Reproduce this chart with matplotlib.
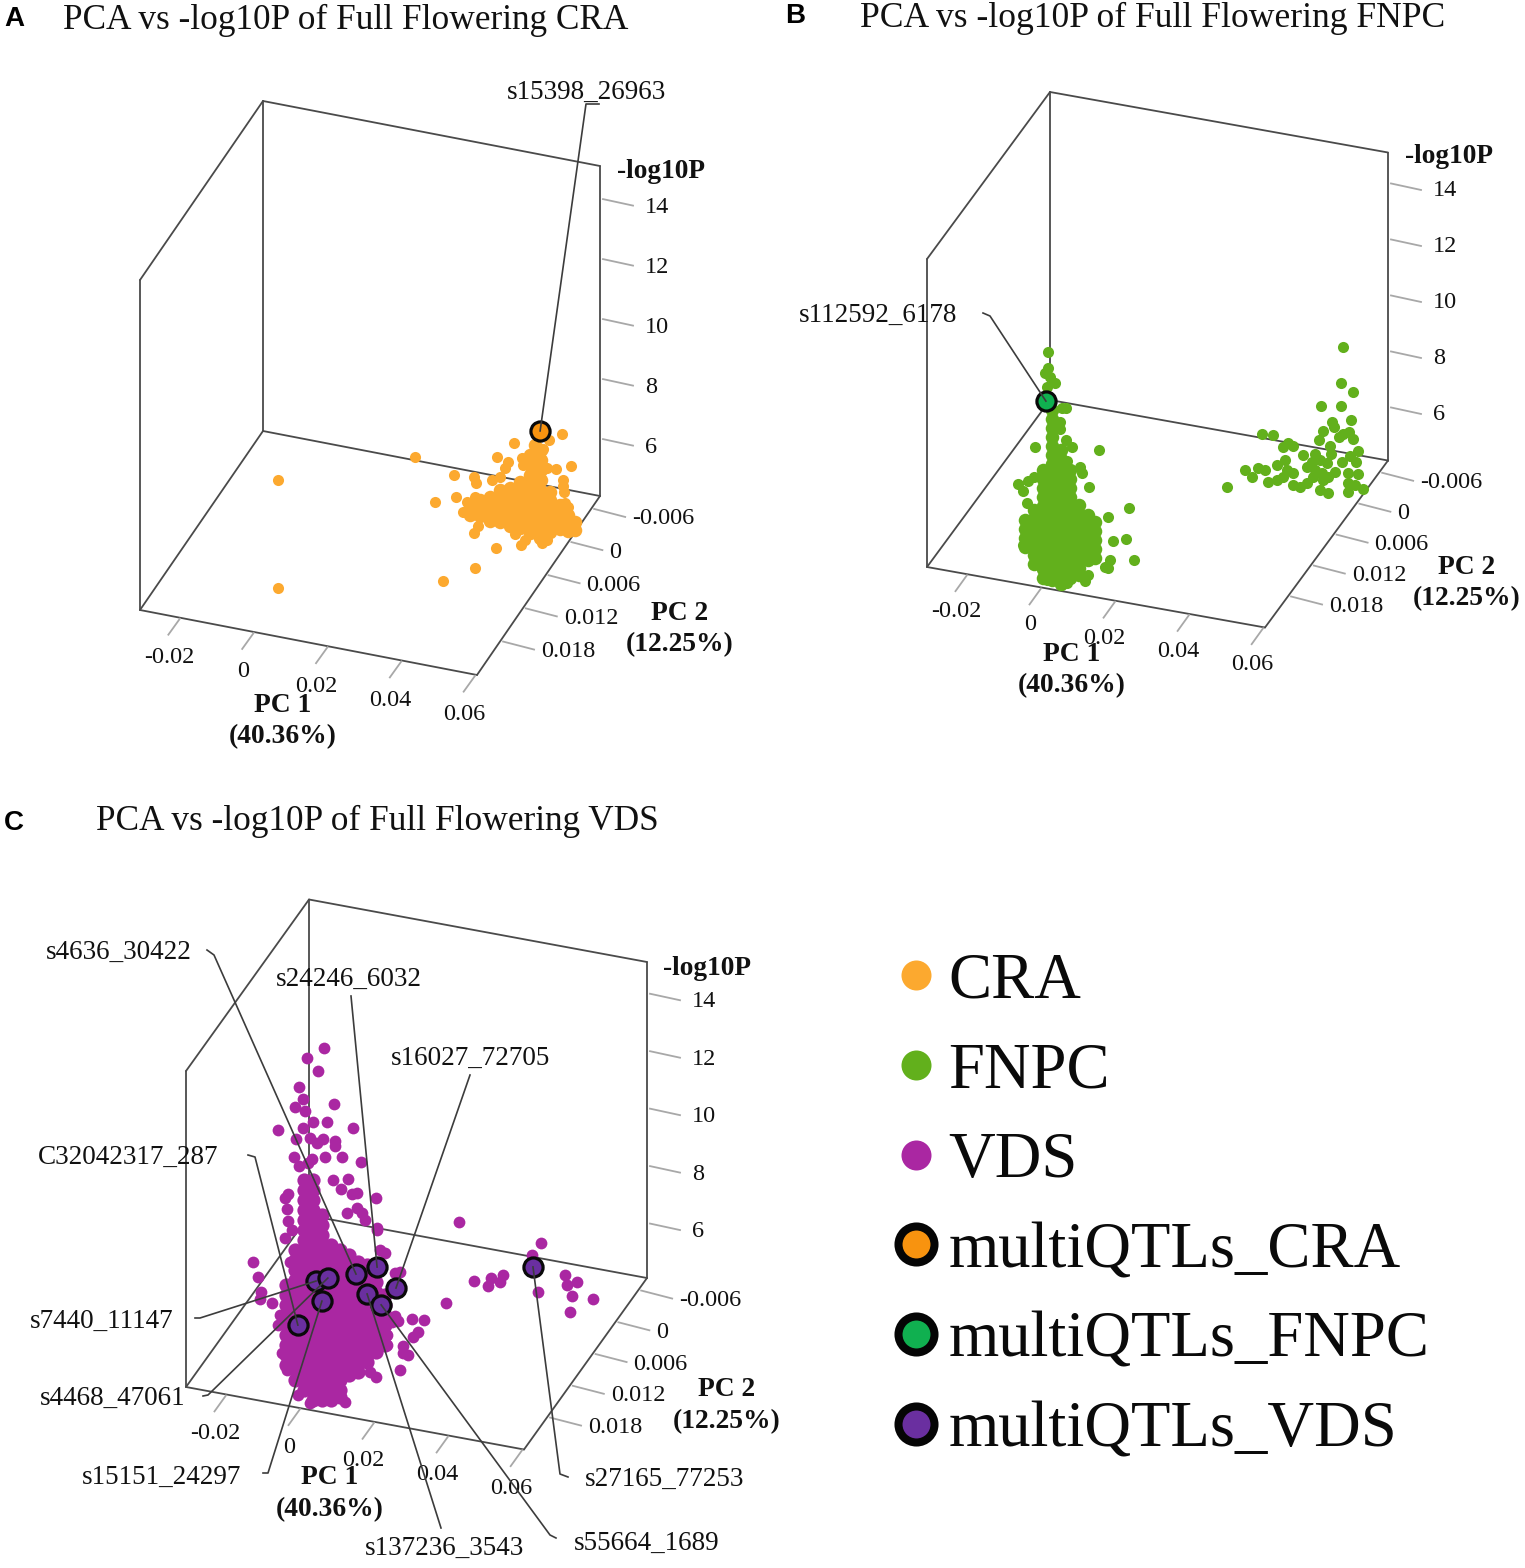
import numpy as np
import matplotlib
matplotlib.use("Agg")
import matplotlib.pyplot as plt

plt.rcParams['font.family'] = ['Liberation Serif', 'DejaVu Serif']

pc1_ticks = [-0.02, 0, 0.02, 0.04, 0.06]
pc2_ticks = [-0.006, 0, 0.006, 0.012, 0.018]
logp_ticks = [6, 8, 10, 12, 14]
PC1_RANGE = (-0.0308, 0.0605)
PC2_RANGE = (-0.0078, 0.0246)
LOGP_RANGE = (4.07, 15.07)

CRA_COLOR = '#FCA92F'
FNPC_COLOR = '#62B01C'
VDS_COLOR = '#AA27A2'
CRA_QTL = '#F8930F'
FNPC_QTL = '#10B050'
VDS_QTL = '#6A2FA0'

# CRA: dense body, one pc1 per column, all at pc2 = 0
cra_col_pc1 = [0.0333, 0.036, 0.0387, 0.0414, 0.0441, 0.0468, 0.0496, 0.0523, 0.055, 0.0577, 0.0599, 0.0617,
               0.0509, 0.0496, 0.0525]
cra_col_logp = [
    [4.49, 4.23],
    [4.79, 4.53, 4.26],
    [4.96, 4.69, 4.42, 4.16],
    [5.25, 4.99, 4.72, 4.45, 4.19],
    [5.39, 5.12, 4.85, 4.59, 4.32, 4.12],
    [5.65, 5.38, 5.12, 4.85, 4.58, 4.32, 4.12],
    [5.61, 5.35, 5.08, 4.81, 4.55, 4.28, 4.01],
    [5.51, 5.25, 4.98, 4.71, 4.45, 4.18, 3.91],
    [5.51, 5.24, 4.98, 4.71, 4.44, 4.18],
    [5.14, 4.87, 4.61, 4.34],
    [4.86, 4.59, 4.33],
    [4.68, 4.41],
    [6.98, 6.75, 6.51, 6.28, 6.05, 5.81],
    [6.61, 6.28, 5.95],
    [6.85, 6.52, 6.19, 5.85],
]
# CRA: scattered loci
cra_pc1 = [0.0184, 0.0238, 0.029, 0.0295, 0.0344, 0.0349, 0.0452, 0.0406, 0.0436, 0.0428, 0.0415, 0.0393,
           0.0473, 0.0476, 0.0582, 0.0547, 0.0531, 0.0607, 0.0567, 0.0541, 0.0585, 0.0585, 0.0588, 0.059,
           0.0598, 0.0354, 0.0344, 0.0455, 0.0471, 0.0482, 0.0528, 0.0541, 0.0314, 0.0325, 0.0346,
           -0.0012, -0.0012, 0.0371, 0.0426, 0.0443]
cra_pc2 = [0] * 35 + [0.017, 0.017, 0.0108, 0.0077, 0.0039]
cra_logp = [5.81, 4.44, 5.46, 4.74, 5.52, 5.34, 6.91, 6.34, 6.24, 6.02, 5.69, 5.54,
            6.46, 6.24, 7.52, 7.24, 6.9, 6.51, 6.32, 6.29, 5.99, 5.79, 5.61, 5.24,
            5.11, 3.9, 3.66, 3.88, 3.56, 3.75, 3.76, 3.89, 4.28, 4.64, 4.86,
            4.1, 7.7, 4.1, 4.1, 4.1]
cra_qtl_pc1 = [0.0523]
cra_qtl_pc2 = [0]
cra_qtl_logp = [7.48]

# FNPC: main cloud, columns at pc2 = 0.024
fnpc_col_pc1 = [-0.0049, -0.0025, -0.0001, 0.0024, 0.0048, 0.0072, 0.0096, 0.0121, 0.014]
fnpc_col_logp = [
    [6.25, 5.93, 5.61, 5.29],
    [6.66, 6.34, 6.02, 5.7, 5.38, 5.05, 4.73],
    [8.15, 7.83, 7.51, 7.19, 6.87, 6.55, 6.23, 5.91, 5.59, 5.27, 4.95, 4.63, 4.31],
    [10.35, 10.03, 9.71, 9.39, 9.07, 8.75, 8.43, 8.11, 7.79, 7.47, 7.15, 6.83, 6.51, 6.19, 5.87, 5.55, 5.23,
     4.91, 4.59, 4.27],
    [8.98, 8.66, 8.34, 8.02, 7.7, 7.38, 7.06, 6.74, 6.42, 6.1, 5.78, 5.46, 5.14, 4.82, 4.5, 4.18],
    [8.32, 8.0, 7.68, 7.36, 7.04, 6.72, 6.4, 6.08, 5.76, 5.44, 5.12, 4.8, 4.48],
    [7.13, 6.81, 6.49, 6.17, 5.85, 5.53, 5.21, 4.89, 4.63],
    [6.83, 6.51, 6.19, 5.87, 5.55, 5.23],
    [6.63, 6.31, 5.99, 5.67, 5.35],
]
fnpc_pc1 = [0.0013, 0.0013, 0.0005, 0.0018, 0.0032, 0.001, 0.0061, 0.005, 0.0045, 0.0045, -0.0022, 0.0061,
            0.0078, 0.015, 0.0064, 0.0099, 0.0105, 0.0123, -0.0068, -0.0041, -0.0025, -0.0055, -0.0044,
            0.0232, 0.0175, 0.0188, 0.0223, 0.0245, 0.018, 0.0175, 0.0167, 0.0121, 0.0113, -0.0055, -0.002,
            0.001, 0.0064]
fnpc_logp = [12.4, 11.82, 11.62, 11.52, 11.33, 11.14, 10.51, 10.48, 9.97, 9.72, 8.92, 9.36,
             9.15, 9.21, 8.62, 8.49, 8.29, 7.83, 7.5, 7.65, 7.84, 7.28, 6.87,
             7.34, 6.89, 6.06, 6.2, 5.52, 5.38, 5.07, 5.08, 4.69, 4.45, 5.35, 4.86,
             4.25, 4.26]
# FNPC: second cluster at pc2 = 0
fnpc_far_pc1 = [0.0563, 0.0558, 0.059, 0.0558, 0.0504, 0.0585, 0.0534, 0.0539, 0.051, 0.058, 0.0499, 0.0563,
                0.0553, 0.059, 0.0345, 0.0374, 0.0415, 0.0401, 0.0428, 0.0528, 0.0531, 0.0455, 0.0488, 0.0604,
                0.0582, 0.0599, 0.0561, 0.0407, 0.0385, 0.0299, 0.0334, 0.0318, 0.025, 0.0353, 0.0361, 0.0385,
                0.0412, 0.0428, 0.0401, 0.0447, 0.0466, 0.0466, 0.048, 0.0501, 0.052, 0.0483, 0.0507, 0.0523,
                0.0542, 0.0501, 0.0523, 0.0577, 0.0604, 0.0577, 0.0596, 0.0618, 0.0577, 0.0488, 0.0428, 0.051]
fnpc_far_logp = [9.46, 8.16, 7.92, 7.34, 7.22, 6.91, 6.71, 6.55, 6.33, 6.47, 5.99, 6.36,
                 6.22, 6.24, 5.84, 5.87, 5.68, 5.51, 5.61, 5.84, 5.57, 5.35, 5.46, 5.84,
                 5.62, 5.44, 5.35, 5.06, 4.83, 4.45, 4.6, 4.24, 3.72, 4.57, 4.16, 4.3,
                 4.71, 4.64, 4.44, 4.19, 4.38, 4.95, 5.16, 5.28, 5.22, 4.63, 4.83, 4.72,
                 4.95, 4.21, 4.15, 4.99, 5.02, 4.63, 4.61, 4.52, 4.31, 4.89, 4.22, 4.58]
fnpc_qtl_pc1 = [0.0007]
fnpc_qtl_pc2 = [0.024]
fnpc_qtl_logp = [10.63]

# VDS: main cloud, columns at pc2 = 0.024
vds_col_pc1 = [-0.0044, -0.002, 0.0005, 0.0029, 0.0053, 0.0078, 0.0102, 0.0126, 0.015, 0.0175, 0.0199, 0.0223]
vds_col_logp = [
    [8.14, 7.79, 7.44, 7.1, 6.75, 6.4, 6.05, 5.71, 5.36],
    [9.41, 9.06, 8.71, 8.37, 8.02, 7.67, 7.32, 6.98, 6.63, 6.28, 5.93, 5.59, 5.24, 4.89],
    [11.91, 11.56, 11.21, 10.87, 10.52, 10.17, 9.82, 9.48, 9.13, 8.78, 8.43, 8.09, 7.74, 7.39, 7.04, 6.7, 6.35,
     6.0, 5.65, 5.31, 4.96, 4.61],
    [11.97, 11.62, 11.27, 10.93, 10.58, 10.23, 9.88, 9.54, 9.19, 8.84, 8.49, 8.15, 7.8, 7.45, 7.1, 6.76, 6.41,
     6.06, 5.71, 5.37, 5.02, 4.67, 4.32],
    [10.81, 10.46, 10.11, 9.77, 9.42, 9.07, 8.72, 8.38, 8.03, 7.68, 7.33, 6.99, 6.64, 6.29, 5.94, 5.6, 5.25,
     4.9, 4.55, 4.37],
    [9.82, 9.47, 9.12, 8.78, 8.43, 8.08, 7.73, 7.39, 7.04, 6.69, 6.34, 6.0, 5.65, 5.3, 4.95, 4.61, 4.43],
    [9.71, 9.36, 9.01, 8.67, 8.32, 7.97, 7.62, 7.28, 6.93, 6.58, 6.23, 5.89, 5.54, 5.19, 4.84, 4.58],
    [9.59, 9.24, 8.89, 8.55, 8.2, 7.85, 7.5, 7.16, 6.81, 6.46, 6.11, 5.77, 5.42],
    [9.4, 9.05, 8.7, 8.36, 8.01, 7.66, 7.31, 6.97, 6.62, 6.27, 5.92, 5.58],
    [9.36, 9.01, 8.66, 8.32, 7.97, 7.62, 7.27, 6.93, 6.58, 6.23, 5.97],
    [9.17, 8.82, 8.47, 8.13, 7.78, 7.43, 7.08, 6.74, 6.39],
    [8.43, 8.08, 7.73, 7.39, 7.04, 6.69],
]
vds_pc1 = [-0.0133, -0.012, -0.0112, -0.0114, -0.0082, -0.0047, -0.0028, -0.0034, -0.006, -0.0066, -0.0055,
           -0.0041, -0.0012, 0.0021, 0.0115, 0.0183, 0.0199, 0.0264, 0.0272, 0.0272, 0.0286, 0.03, 0.0313, 0.0296,
           0.0329, 0.0242, 0.0259, 0.025, 0.0229, 0.0229, 0.0223, 0.021, 0.0264, 0.025, 0.0202, 0.0388]
vds_logp = [8.73, 8.24, 7.73, 7.48, 7.42, 9.77, 10.09, 8.96, 7.06, 6.69, 5.74,
            5.18, 4.39, 4.18, 4.45, 5.65, 5.51, 5.91, 6.76, 6.52, 6.49, 7.15, 7.35, 7.77,
            7.81, 7.53, 7.61, 7.77, 7.05, 6.7, 9.89, 9.96, 9.33, 9.26, 10.64, 8.54]
# VDS: high loci at pc2 = 0.012
vds_high_pc1 = [-0.0064, -0.011, -0.0081, -0.0132, -0.0121, -0.0143, -0.0037, -0.0116, -0.0094, -0.0056, -0.0189,
                -0.0121, 0.0014, -0.014, -0.0102, -0.0067, -0.0035, -0.0035, -0.0083, -0.0145, -0.0097, -0.0062,
                -0.0016, -0.0132, -0.0107, 0.0036, -0.0041, 0.0001, -0.0018, 0.0011, 0.0025, 0.0076, -0.0162,
                -0.017, -0.0165, -0.0162, -0.0002, 0.0025, 0.0038, 0.0046, 0.0079]
vds_high_logp = [14.13, 13.67, 13.29, 12.61, 12.21, 11.89, 12.26, 11.81, 11.48, 11.57, 10.98,
                 11.21, 11.53, 10.77, 10.91, 10.95, 10.96, 10.79, 10.77, 10.14, 10.18, 10.34,
                 10.45, 9.86, 10.02, 10.4, 9.58, 9.72, 9.33, 9.22, 9.29, 9.24, 8.81,
                 8.66, 8.29, 7.87, 8.52, 8.77, 8.64, 8.41, 8.21]
# VDS: second cluster at pc2 = 0
vds_far_pc1 = [0.0177, 0.0218, 0.0256, 0.0288, 0.0296, 0.0263, 0.04, 0.0375, 0.0391, 0.0464, 0.0469, 0.0496,
               0.0482, 0.0539, 0.0476]
vds_far_logp = [6.44, 4.48, 4.4, 4.61, 4.88, 4.69, 6.24, 5.76, 4.51, 5.28, 4.94, 5.11,
                4.59, 4.62, 4.02]
vds_qtl_names = ['s4636_30422', 's24246_6032', 's16027_72705', 'C32042317_287', 's7440_11147',
                 's4468_47061', 's15151_24297', 's137236_3543', 's55664_1689', 's27165_77253']
vds_qtl_pc1 = [0.0145, 0.0202, 0.0253, -0.0012, 0.0037, 0.0069, 0.0053, 0.0175, 0.0213, 0.0377]
vds_qtl_pc2 = [0.024, 0.024, 0.024, 0.024, 0.024, 0.024, 0.024, 0.024, 0.024, 0]
vds_qtl_logp = [8.97, 9.35, 8.74, 6.82, 8.47, 8.65, 7.81, 8.35, 8.06, 5.35]

EDGE = '#4a4a4a'
TICK = '#a8a8a8'
TEXT = '#111111'
LABEL_SIZE = 19.5
TICK_SIZE = 17.5
POINT_SIZE = 64
CORE_SIZE = 95  # dense cloud columns are widened so they close up


class Panel:
    # oblique box: front left floor corner, pc1 edge, pc2 edge (front to back), height
    def __init__(self, ax, corner, pc1_edge, pc2_edge, height, pc1_label_dy=40, logp_label_dy=9):
        self.ax, self.corner = ax, np.array(corner, float)
        self.u, self.v, self.h = np.array(pc1_edge, float), np.array(pc2_edge, float), height
        self.pc1_label_dy, self.logp_label_dy = pc1_label_dy, logp_label_dy

    def project(self, pc1, pc2, logp):
        a = (np.asarray(pc1, float) - PC1_RANGE[0]) / (PC1_RANGE[1] - PC1_RANGE[0])
        b = (PC2_RANGE[1] - np.asarray(pc2, float)) / (PC2_RANGE[1] - PC2_RANGE[0])
        c = (np.asarray(logp, float) - LOGP_RANGE[0]) / (LOGP_RANGE[1] - LOGP_RANGE[0])
        x = self.corner[0] + a * self.u[0] + b * self.v[0]
        y = self.corner[1] + a * self.u[1] + b * self.v[1] - c * self.h
        return x, y

    def box(self):
        p0, p1 = PC1_RANGE
        q0, q1 = PC2_RANGE
        z0, z1 = LOGP_RANGE
        edges = [((p0, q1, z0), (p1, q1, z0)), ((p1, q1, z0), (p1, q0, z0)), ((p1, q0, z0), (p0, q0, z0)),
                 ((p0, q0, z0), (p0, q1, z0)), ((p0, q1, z0), (p0, q1, z1)), ((p0, q0, z0), (p0, q0, z1)),
                 ((p1, q0, z0), (p1, q0, z1)), ((p0, q1, z1), (p0, q0, z1)), ((p0, q0, z1), (p1, q0, z1))]
        for a, b in edges:
            xa, ya = self.project(*a)
            xb, yb = self.project(*b)
            self.ax.plot([xa, xb], [ya, yb], color=EDGE, lw=1.3, zorder=1, solid_capstyle='round')

    def ticks(self):
        p0, p1 = PC1_RANGE
        q0, q1 = PC2_RANGE
        z0 = LOGP_RANGE[0]
        for t in pc1_ticks:
            x, y = self.project(t, q1, z0)
            self.ax.plot([x, x - 11.5], [y + 1, y + 17], color=TICK, lw=1.3, zorder=1)
            self.ax.text(x - 11, y + self.pc1_label_dy, f'{t:g}', ha='center', va='center', fontsize=TICK_SIZE,
                         color=TEXT)
        for t in pc2_ticks:
            x, y = self.project(p1, t, z0)
            self.ax.plot([x + 1, x + 32], [y + 3, y + 11], color=TICK, lw=1.3, zorder=1)
            self.ax.text(x + 39, y + 13, f'{t:g}', ha='left', va='center', fontsize=TICK_SIZE, color=TEXT)
        for t in logp_ticks:
            x, y = self.project(p1, q0, t)
            self.ax.plot([x + 3, x + 33], [y + 1, y + 7.5], color=TICK, lw=1.3, zorder=1)
            self.ax.text(x + 45, y + self.logp_label_dy, f'{t:g}', ha='left', va='center', fontsize=TICK_SIZE,
                         color=TEXT)

    def points(self, pc1, pc2, logp, color, size=POINT_SIZE):
        x, y = self.project(pc1, pc2, logp)
        self.ax.scatter(x, y, s=size, color=color, linewidths=0, zorder=2)

    def qtl(self, pc1, pc2, logp, color):
        x, y = self.project(pc1, pc2, logp)
        self.ax.scatter(x, y, s=190, facecolor=color, edgecolor='#0a0a0a', linewidths=2.3, zorder=3)
        return x, y


def expand(col_pc1, col_logp):
    pc1 = np.repeat(col_pc1, [len(c) for c in col_logp])
    return pc1, np.concatenate(col_logp)


def leader(ax, label, text_xy, elbow, end):
    ax.text(text_xy[0], text_xy[1] + 1, label, ha='center', va='center', fontsize=LABEL_SIZE, color=TEXT)
    xs = [e[0] for e in elbow] + [end[0]]
    ys = [e[1] for e in elbow] + [end[1]]
    ax.plot(xs, ys, color='#3c3c3c', lw=1.2, zorder=4)


def axis_names(ax, pc1_xy, pc2_xy, logp_xy):
    for (x, y), s in [(pc1_xy, 'PC 1'), (pc2_xy, 'PC 2')]:
        ax.text(x, y + 1, s, ha='center', va='center', fontsize=19.8, fontweight='bold', color=TEXT)
        ax.text(x, y + 33, '(40.36%)' if s == 'PC 1' else '(12.25%)', ha='center', va='center',
                fontsize=19.8, fontweight='bold', color=TEXT)
    ax.text(logp_xy[0], logp_xy[1] + 1, '-log10P', ha='center', va='center', fontsize=19.7, fontweight='bold',
            color=TEXT)


fig = plt.figure(figsize=(15.25, 15.68), dpi=100)
ax = fig.add_axes([0, 0, 1, 1])
ax.set_xlim(0, 1525)
ax.set_ylim(1568, 0)
ax.axis('off')

for letter, x, y in [('A', 14, 19), ('B', 795, 16), ('C', 14, 823)]:
    ax.text(x, y, letter, ha='center', va='center', fontsize=20, fontweight='bold', family='Liberation Sans')
for title, x, y, size in [('PCA vs -log10P of Full Flowering CRA', 63, 20, 25.4),
                          ('PCA vs -log10P of Full Flowering FNPC', 860, 18, 25.6),
                          ('PCA vs -log10P of Full Flowering VDS', 96, 821, 25.4)]:
    ax.text(x, y, title, ha='left', va='center', fontsize=size, color=TEXT)

# panel A
pa = Panel(ax, (140, 610), (337, 65), (123, -179), 330)
pa.box()
pa.ticks()
cx, cl = expand(cra_col_pc1, cra_col_logp)
pa.points(cx, np.zeros(len(cx)), cl, CRA_COLOR, CORE_SIZE)
pa.points(cra_pc1, cra_pc2, cra_logp, CRA_COLOR)
qx, qy = pa.qtl(cra_qtl_pc1, cra_qtl_pc2, cra_qtl_logp, CRA_QTL)
leader(ax, 's15398_26963', (586, 91), [(599, 104), (586, 104)], (qx[0], qy[0]))
axis_names(ax, (283, 704), (680, 612), (661, 170))

# panel B
pb = Panel(ax, (927, 567), (338, 60.5), (123, -167), 308, pc1_label_dy=37.5, logp_label_dy=8)
pb.box()
pb.ticks()
cx, cl = expand(fnpc_col_pc1, fnpc_col_logp)
pb.points(cx, np.full(len(cx), 0.024), cl, FNPC_COLOR, CORE_SIZE)
pb.points(fnpc_pc1, np.full(len(fnpc_pc1), 0.024), fnpc_logp, FNPC_COLOR)
pb.points(fnpc_far_pc1, np.zeros(len(fnpc_far_pc1)), fnpc_far_logp, FNPC_COLOR)
qx, qy = pb.qtl(fnpc_qtl_pc1, fnpc_qtl_pc2, fnpc_qtl_logp, FNPC_QTL)
leader(ax, 's112592_6178', (878, 314), [(983, 313), (990, 316)], (qx[0], qy[0]))
axis_names(ax, (1072, 653), (1467, 566), (1449, 155))

# panel C
pc = Panel(ax, (186, 1387), (338, 62.5), (123, -171.5), 316, pc1_label_dy=39)
pc.box()
pc.ticks()
cx, cl = expand(vds_col_pc1, vds_col_logp)
pc.points(cx, np.full(len(cx), 0.024), cl, VDS_COLOR, CORE_SIZE + 10)
pc.points(vds_pc1, np.full(len(vds_pc1), 0.024), vds_logp, VDS_COLOR, POINT_SIZE + 8)
pc.points(vds_high_pc1, np.full(len(vds_high_pc1), 0.012), vds_high_logp, VDS_COLOR, POINT_SIZE + 8)
pc.points(vds_far_pc1, np.zeros(len(vds_far_pc1)), vds_far_logp, VDS_COLOR, POINT_SIZE + 8)
qx, qy = pc.qtl(vds_qtl_pc1, vds_qtl_pc2, vds_qtl_logp, VDS_QTL)
vds_text_xy = [(119, 951), (349, 978), (471, 1057), (128, 1156), (102, 1320),
               (113, 1397), (162, 1476), (444, 1547), (647, 1542), (665, 1478)]
vds_elbows = [[(207, 950), (214, 955)], [(351, 996)], [(470, 1075)], [(248, 1155), (255, 1157)],
              [(195, 1318), (200, 1318)], [(203, 1396), (208, 1395)], [(263, 1473), (268, 1473)], [(441, 1528)],
              [(556, 1538), (550, 1535)], [(568, 1477), (560, 1474)]]
for i, name in enumerate(vds_qtl_names):
    leader(ax, name, vds_text_xy[i], vds_elbows[i], (qx[i], qy[i]))
axis_names(ax, (330, 1477), (727, 1389), (707, 967))

# legend
handles = [ax.scatter([], [], s=467, color=CRA_COLOR, linewidths=0, label='CRA'),
           ax.scatter([], [], s=467, color=FNPC_COLOR, linewidths=0, label='FNPC'),
           ax.scatter([], [], s=467, color=VDS_COLOR, linewidths=0, label='VDS'),
           ax.scatter([], [], s=672, facecolor=CRA_QTL, edgecolor='#050505', linewidths=5.8, label='multiQTLs_CRA'),
           ax.scatter([], [], s=672, facecolor=FNPC_QTL, edgecolor='#050505', linewidths=5.8, label='multiQTLs_FNPC'),
           ax.scatter([], [], s=672, facecolor=VDS_QTL, edgecolor='#050505', linewidths=5.8, label='multiQTLs_VDS')]
ax.legend(handles=handles, loc='upper left', bbox_to_anchor=(884, 952), bbox_transform=ax.transData,
          frameon=False, fontsize=46.5, labelspacing=0.47, handlelength=1.0, handletextpad=0.0, borderpad=0,
          borderaxespad=0, scatterpoints=1, scatteryoffsets=[0.5], labelcolor='#0a0a0a')

fig.savefig('out.png', dpi=100)
